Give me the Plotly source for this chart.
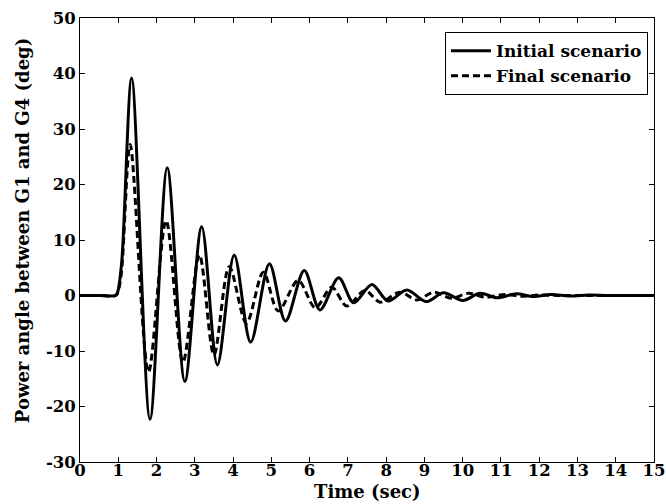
import plotly.graph_objects as go

# Initial scenario (solid) (time in s, angle in deg)
t_initial = [0, 0.5, 0.93, 0.98, 1.09, 1.35, 1.83, 2.28, 2.74, 3.18, 3.59, 4.03, 4.46,
             4.95, 5.37, 5.86, 6.27, 6.76, 7.15, 7.63, 8.05, 8.54, 9.05, 9.5, 10.0,
             10.45, 10.9, 11.4, 11.85, 12.3, 12.8, 13.3, 13.8, 14.3, 15]
v_initial = [0, 0, 0, 0.5, 6, 39.2, -22.3, 23.0, -15.5, 12.4, -12.5, 7.3, -8.4,
             5.7, -4.6, 4.5, -2.6, 3.2, -1.3, 2.0, -1.0, 1.0, -1.1, 0.5, -0.9,
             0.4, -0.4, 0.3, -0.2, 0.2, -0.1, 0.1, 0, 0, 0]

# Final scenario (dashed)
t_final = [0, 0.5, 0.93, 0.98, 1.08, 1.31, 1.79, 2.25, 2.69, 3.12, 3.5, 3.9, 4.35,
           4.79, 5.18, 5.70, 6.15, 6.58, 6.97, 7.45, 7.84, 8.36, 8.8, 9.25, 9.7,
           10.15, 10.6, 11.1, 11.55, 12.0, 12.5, 13, 15]
v_final = [0, 0, 0, 0.4, 4, 27.2, -13.8, 13.5, -12, 7.3, -10.7, 5.2, -5,
           4.2, -2.8, 2.7, -2.2, 1.5, -1.9, 0.9, -1.2, 0.6, -0.8, 0.6, -0.5,
           0.4, -0.3, 0.2, -0.15, 0.1, 0, 0, 0]

x_ticks = list(range(0, 16))
y_ticks = list(range(-30, 51, 10))

x_title = "Time (sec)"
y_title = "Power angle between G1 and G4 (deg)"

FONT = "DejaVu Serif"

fig = go.Figure()
fig.add_trace(go.Scatter(x=t_initial, y=v_initial, mode="lines", name="Initial scenario",
                         line=dict(color="black", width=3, shape="spline", smoothing=0.9)))
fig.add_trace(go.Scatter(x=t_final, y=v_final, mode="lines", name="Final scenario",
                         line=dict(color="black", width=3, dash="7px,4px", shape="spline", smoothing=0.9)))

axis_common = dict(showline=True, linecolor="black", linewidth=1, mirror="ticks",
                   ticks="inside", ticklen=5, tickcolor="black", showgrid=False, zeroline=False,
                   tickfont=dict(family=FONT, size=16.5, color="black", weight="bold"))

fig.update_layout(
    width=666, height=504,
    margin=dict(l=80, r=12, t=18, b=42),
    paper_bgcolor="white", plot_bgcolor="white",
    font=dict(family=FONT, color="black"),
    xaxis=dict(range=[0, 15], tickvals=x_ticks, ticktext=[str(v) for v in x_ticks],
               automargin=False, ticklabelstandoff=-7, **axis_common),
    yaxis=dict(range=[-30, 50], tickvals=y_ticks, ticktext=[str(v) for v in y_ticks],
               automargin=False, **axis_common),
    legend=dict(x=0.9895, y=0.968, xanchor="right", yanchor="top",
                bordercolor="black", borderwidth=1, bgcolor="white",
                font=dict(family=FONT, size=17, color="black", weight="bold"),
                tracegroupgap=0, itemwidth=40),
    showlegend=True,
    annotations=[
        dict(text="<b>" + x_title + "</b>", xref="paper", yref="paper", x=0.5, y=-0.066,
             xanchor="center", yanchor="middle", showarrow=False,
             font=dict(family=FONT, size=18, color="black")),
        dict(text="<b>" + y_title + "</b>", xref="paper", yref="paper", x=-0.101, y=0.52,
             xanchor="center", yanchor="middle", showarrow=False, textangle=-90,
             font=dict(family=FONT, size=18, color="black")),
    ],
)

fig.write_html("out.html")
